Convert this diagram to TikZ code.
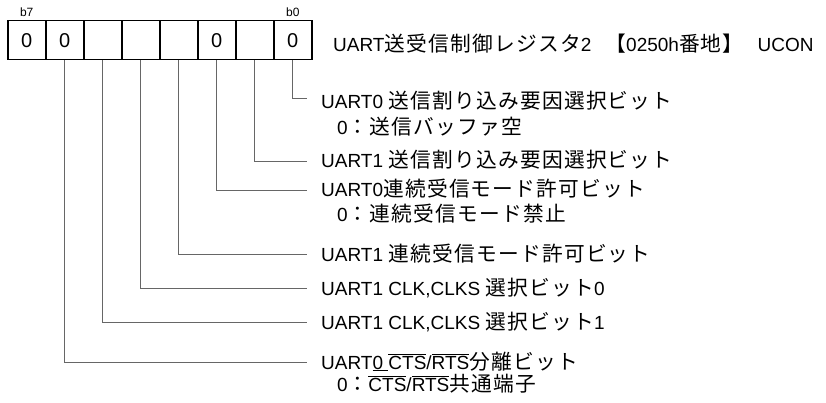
\documentclass[tikz,border=0pt]{standalone}
\usepackage{fontspec}
\setmainfont{Liberation Sans}
\newfontfamily\jp[Scale=1.09,LetterSpace=6]{Noto Sans CJK JP}
\newcommand{\J}[1]{{\jp #1}}
\newcommand{\ovl}[1]{$\overline{\hbox{#1}}$}
\begin{document}
\begin{tikzpicture}[x=1pt,y=-1pt,font=\fontsize{19}{22}\selectfont]
\tikzset{
  bitbox/.style={draw=black,line width=1.5pt,minimum width=38pt,minimum height=39pt,inner sep=0pt,anchor=north west,font=\fontsize{20}{22}\selectfont},
  bitlbl/.style={font=\fontsize{12}{14}\selectfont,anchor=base,inner sep=0pt},
  lead/.style={draw=black!60,line width=0.8pt},
  lbl/.style={anchor=base west,inner sep=0pt}
}
\useasboundingbox (0,0) rectangle (826,403);
\foreach \i/\v in {7/0,6/0,5/,4/,3/,2/0,1/,0/0}
  \node[bitbox] (bit\i) at ({7+38*(7-\i)},20) {\v};
\node[bitlbl] (lb7) at ([yshift=3pt]bit7.north) {b7};
\node[bitlbl] (lb0) at ([yshift=3pt]bit0.north) {b0};
\node[lbl] (title) at (333,52) {UART\J{送受信制御レジスタ}2\hspace{14pt}\J{【}0250h\J{番地】}\hspace{14pt}UCON};
% rows
\node[lbl] (t0) at (321,109) {UART0 \J{送信割り込み要因選択ビット}};
\node[lbl] (s0) at (337,135) {0\J{：送信バッファ空}};
\node[lbl] (t1) at (321,168) {UART1 \J{送信割り込み要因選択ビット}};
\node[lbl] (t2) at (321,197) {UART0\J{連続受信モード許可ビット}};
\node[lbl] (s2) at (337,222) {0\J{：連続受信モード禁止}};
\node[lbl] (t3) at (321,261) {UART1 \J{連続受信モード許可ビット}};
\node[lbl] (t4) at (321,295) {UART1 CLK,CLKS \J{選択ビット}0};
\node[lbl] (t5) at (321,329) {UART1 CLK,CLKS \J{選択ビット}1};
\node[lbl] (t6) at (321,369) {UART\underline{0 }\ovl{CTS}/\ovl{RTS}\J{分離ビット}};
\node[lbl] (s6) at (337,391) {0\J{：}\ovl{CTS}/\ovl{RTS}\J{共通端子}};
\coordinate (e0) at (307,98);
\coordinate (e1) at (307,161);
\coordinate (e2) at (307,190);
\coordinate (e3) at (307,254);
\coordinate (e4) at (307,288);
\coordinate (e5) at (307,322);
\coordinate (e6) at (307,362);
\foreach \k in {0,...,6}
  \draw[lead] (bit\k.south) |- (e\k);
\end{tikzpicture}
\end{document}
